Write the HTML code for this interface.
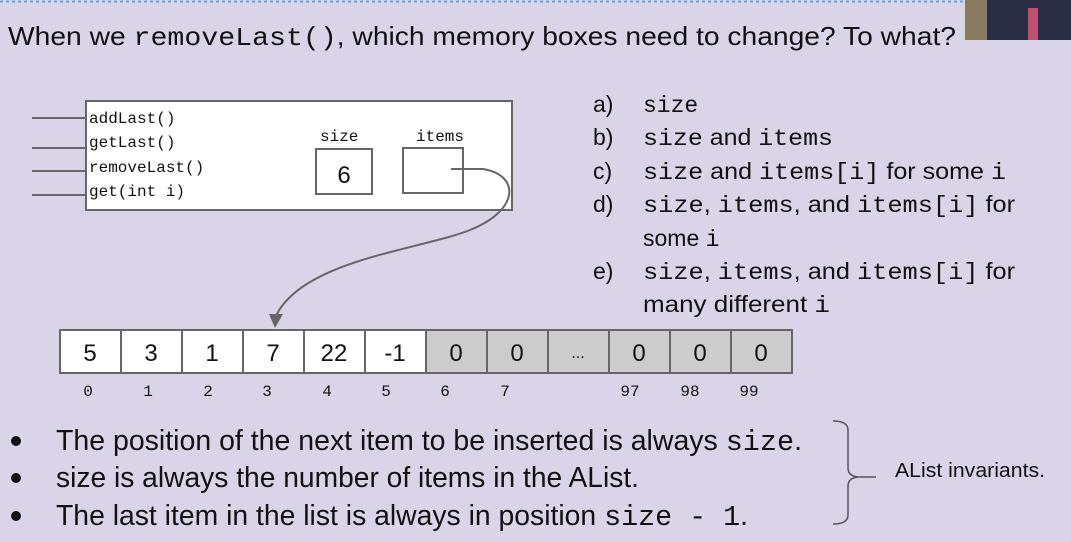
<!DOCTYPE html>
<html><head><meta charset="utf-8"><style>
html,body{margin:0;padding:0;background:#d9d4e8;}
svg{display:block}
.s{font-family:"Liberation Sans",sans-serif}
.m{font-family:"Liberation Mono",monospace}
.n{font-family:"Liberation Sans",sans-serif}
</style></head><body>
<svg width="1071" height="542" viewBox="0 0 1071 542" xmlns="http://www.w3.org/2000/svg">
<rect width="1071" height="542" fill="#d9d4e8"/>
<line x1="0" y1="1.5" x2="965" y2="1.5" stroke="#5aa8e0" stroke-width="2" stroke-dasharray="3,3"/>
<rect x="965" y="0" width="106" height="40" fill="#2a2f45"/>
<rect x="965" y="0" width="22" height="40" fill="#8a7a60"/>
<rect x="1028" y="8" width="10" height="32" fill="#c05070"/>
<text x="8" y="45" class="s" font-size="26" fill="#111" textLength="948" lengthAdjust="spacingAndGlyphs">When we <tspan class="m">removeLast()</tspan>, which memory boxes need to change? To what?</text>

<rect x="86" y="101" width="426" height="109" fill="#fff" stroke="#666" stroke-width="2"/>
<g stroke="#666" stroke-width="2">
<line x1="32" y1="118" x2="86" y2="118"/><line x1="32" y1="148" x2="86" y2="148"/>
<line x1="32" y1="171" x2="86" y2="171"/><line x1="32" y1="195" x2="86" y2="195"/>
</g>
<g class="m" font-size="16" fill="#111">
<text x="89" y="123">addLast()</text><text x="89" y="147">getLast()</text>
<text x="89" y="172">removeLast()</text><text x="89" y="196">get(int i)</text>
<text x="320" y="141">size</text><text x="416" y="141">items</text>
</g>
<rect x="316" y="149" width="56" height="45" fill="#fff" stroke="#666" stroke-width="2"/>
<text x="344" y="183" class="s" font-size="24" text-anchor="middle" fill="#111">6</text>
<rect x="403" y="148" width="60" height="45" fill="#fff" stroke="#666" stroke-width="2"/>
<path d="M451 169 L483 169 C520 175 520 210 470 230 C420 250 300 260 275 318" fill="none" stroke="#666" stroke-width="2"/>
<polygon points="269,314 283,314 275,328" fill="#666"/>

<g stroke="#666" stroke-width="2">
<rect x="60" y="330" width="366" height="43" fill="#fff"/>
<rect x="426" y="330" width="366" height="43" fill="#ccc"/>
<line x1="121" y1="330" x2="121" y2="373"/><line x1="182" y1="330" x2="182" y2="373"/>
<line x1="243" y1="330" x2="243" y2="373"/><line x1="304" y1="330" x2="304" y2="373"/>
<line x1="365" y1="330" x2="365" y2="373"/><line x1="487" y1="330" x2="487" y2="373"/>
<line x1="548" y1="330" x2="548" y2="373"/><line x1="609" y1="330" x2="609" y2="373"/>
<line x1="670" y1="330" x2="670" y2="373"/><line x1="731" y1="330" x2="731" y2="373"/>
</g>
<g class="s" font-size="24" fill="#111" text-anchor="middle">
<text x="90" y="361">5</text><text x="151" y="361">3</text><text x="212" y="361">1</text>
<text x="273" y="361">7</text><text x="334" y="361">22</text><text x="395" y="361">-1</text>
<text x="456" y="361">0</text><text x="517" y="361">0</text><text x="578" y="358" font-size="16">...</text>
<text x="639" y="361">0</text><text x="700" y="361">0</text><text x="761" y="361">0</text>
</g>
<g class="m" font-size="16" fill="#111" text-anchor="middle">
<text x="88" y="396">0</text><text x="148" y="396">1</text><text x="208" y="396">2</text>
<text x="267" y="396">3</text><text x="327" y="396">4</text><text x="386" y="396">5</text>
<text x="445" y="396">6</text><text x="505" y="396">7</text>
<text x="630" y="396">97</text><text x="690" y="396">98</text><text x="749" y="396">99</text>
</g>

<g class="s" font-size="23" fill="#111">
<text x="593" y="112">a)</text><text x="643" y="112" class="m">size</text>
<text x="593" y="145">b)</text><text x="643" y="145" textLength="190" lengthAdjust="spacingAndGlyphs"><tspan class="m">size</tspan> and <tspan class="m">items</tspan></text>
<text x="593" y="179">c)</text><text x="643" y="179" textLength="363" lengthAdjust="spacingAndGlyphs"><tspan class="m">size</tspan> and <tspan class="m">items[i]</tspan> for some <tspan class="m">i</tspan></text>
<text x="593" y="212">d)</text><text x="643" y="212" textLength="372" lengthAdjust="spacingAndGlyphs"><tspan class="m">size</tspan>, <tspan class="m">items</tspan>, and <tspan class="m">items[i]</tspan> for</text>
<text x="643" y="246">some <tspan class="m">i</tspan></text>
<text x="593" y="279">e)</text><text x="643" y="279" textLength="372" lengthAdjust="spacingAndGlyphs"><tspan class="m">size</tspan>, <tspan class="m">items</tspan>, and <tspan class="m">items[i]</tspan> for</text>
<text x="643" y="312" textLength="187" lengthAdjust="spacingAndGlyphs">many different <tspan class="m">i</tspan></text>
</g>

<g fill="#111">
<circle cx="16" cy="441" r="5"/><circle cx="16" cy="478" r="5"/><circle cx="16" cy="516" r="5"/>
</g>
<g class="n" font-size="29" fill="#111">
<text x="56" y="450" textLength="746" lengthAdjust="spacingAndGlyphs">The position of the next item to be inserted is always <tspan class="m">size</tspan>.</text>
<text x="56" y="487" textLength="583" lengthAdjust="spacingAndGlyphs">size is always the number of items in the AList.</text>
<text x="56" y="525" textLength="692" lengthAdjust="spacingAndGlyphs">The last item in the list is always in position <tspan class="m">size - 1</tspan>.</text>
</g>
<path d="M833 421 Q848 421 848 430 L848 468 Q848 476 858 477 Q848 478 848 486 L848 515 Q848 524 833 524" fill="none" stroke="#555" stroke-width="1.5"/>
<path d="M858 477 L876 477" stroke="#555" stroke-width="1.5"/>
<text x="895" y="477" class="n" font-size="20" fill="#111" textLength="150" lengthAdjust="spacingAndGlyphs">AList invariants.</text>
</svg>
</body></html>
